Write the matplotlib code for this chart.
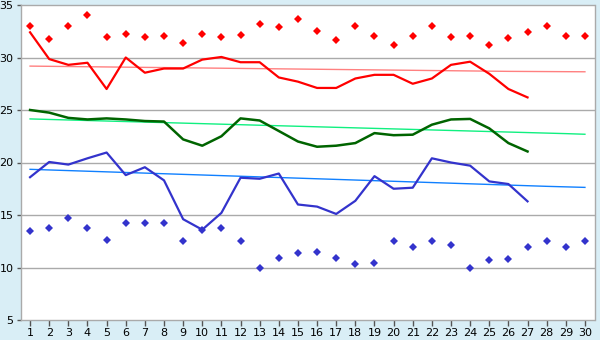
import matplotlib
matplotlib.use("Agg")
from matplotlib import pyplot as plt

days = list(range(1, 31))

# monthly daily series (days 1..27)
avg_high = [32.4, 29.85, 29.3, 29.5, 27.0, 30.0, 28.55, 28.95, 28.95, 29.8,
            30.05, 29.55, 29.55, 28.1, 27.7, 27.1, 27.1, 28.0, 28.35, 28.35,
            27.5, 28.0, 29.3, 29.6, 28.45, 27.0, 26.2]
avg_mean = [25.0, 24.75, 24.25, 24.1, 24.2, 24.1, 23.95, 23.9, 22.2, 21.6,
            22.5, 24.2, 24.0, 23.0, 22.0, 21.5, 21.6, 21.85, 22.8, 22.6,
            22.65, 23.6, 24.1, 24.15, 23.25, 21.85, 21.05]
avg_low = [18.6, 20.05, 19.8, 20.4, 20.95, 18.8, 19.55, 18.3, 14.6, 13.6,
           15.2, 18.55, 18.45, 18.95, 16.0, 15.8, 15.1, 16.35, 18.7, 17.5,
           17.6, 20.4, 20.0, 19.7, 18.2, 17.95, 16.3]

# record values for each day of the month
record_high = [33.0, 31.75, 33.0, 34.05, 31.95, 32.25, 31.95, 32.05, 31.35, 32.25,
               31.95, 32.15, 33.2, 32.9, 33.65, 32.5, 31.65, 33.0, 32.05, 31.2,
               32.05, 33.0, 31.95, 32.05, 31.2, 31.85, 32.4, 33.0, 32.05, 32.05]
record_low = [13.45, 13.8, 14.75, 13.8, 12.65, 14.2, 14.2, 14.2, 12.55, 13.6,
              13.8, 12.5, 10.0, 10.95, 11.35, 11.45, 10.95, 10.3, 10.4, 12.55,
              12.0, 12.5, 12.1, 10.0, 10.75, 10.85, 12.0, 12.5, 12.0, 12.5]

# long-term normals
normal_high = [29.18, 29.16, 29.14, 29.12, 29.1, 29.08, 29.06, 29.04, 29.02, 29.0,
               28.98, 28.96, 28.94, 28.92, 28.9, 28.88, 28.86, 28.84, 28.82, 28.8,
               28.78, 28.76, 28.74, 28.72, 28.7, 28.68, 28.67, 28.66, 28.65, 28.64]
normal_mean = [24.15, 24.1, 24.05, 24.0, 23.95, 23.9, 23.85, 23.8, 23.75, 23.7,
               23.65, 23.6, 23.55, 23.5, 23.45, 23.4, 23.35, 23.3, 23.25, 23.2,
               23.15, 23.1, 23.05, 23.0, 22.95, 22.9, 22.85, 22.8, 22.75, 22.69]
normal_low = [19.35, 19.29, 19.23, 19.17, 19.11, 19.05, 18.99, 18.93, 18.87, 18.81,
              18.75, 18.69, 18.63, 18.57, 18.51, 18.45, 18.39, 18.33, 18.27, 18.21,
              18.15, 18.09, 18.03, 17.97, 17.91, 17.85, 17.79, 17.73, 17.68, 17.63]

bg = "#d9eef6"
grid_grey = "#aaaaaa"

fig = plt.figure(figsize=(6, 3.4), dpi=100, facecolor=bg)
ax = fig.add_axes([20.5 / 600, 20 / 340, 574 / 600, 315 / 340])
ax.set_facecolor("white")

for y in range(10, 35, 5):
    ax.axhline(y, color=grid_grey, linewidth=1.0, zorder=1)

ax.plot(days, normal_high, color="#ff8080", linewidth=1.0, zorder=2)
ax.plot(days, normal_mean, color="#10f080", linewidth=1.0, zorder=2)
ax.plot(days, normal_low, color="#1080ff", linewidth=1.0, zorder=2)

n = len(avg_high)
ax.plot(days[:n], avg_high, color="#ff0000", linewidth=1.6, zorder=3)
ax.plot(days[:n], avg_mean, color="#006400", linewidth=1.8, zorder=3)
ax.plot(days[:n], avg_low, color="#3333cc", linewidth=1.6, zorder=3)

ax.plot(days, record_high, linestyle="none", marker="D", markersize=3.6,
        color="#ff0000", markeredgewidth=0, zorder=4)
ax.plot(days, record_low, linestyle="none", marker="D", markersize=3.6,
        color="#3333cc", markeredgewidth=0, zorder=4)

ax.set_xlim(0.5, 30.5)
ax.set_ylim(5, 35)
ax.set_xticks(days)
ax.set_yticks(range(5, 40, 5))

for side in ["left", "right", "top", "bottom"]:
    ax.spines[side].set_color(grid_grey)
    ax.spines[side].set_linewidth(1.0)

ax.tick_params(axis="x", direction="out", length=4, width=1, color="#555555",
               labelsize=8, pad=2)
ax.tick_params(axis="y", direction="out", length=3, width=1, color="#555555",
               labelsize=8, pad=2)

fig.savefig("out.png", dpi=100, facecolor=bg)
